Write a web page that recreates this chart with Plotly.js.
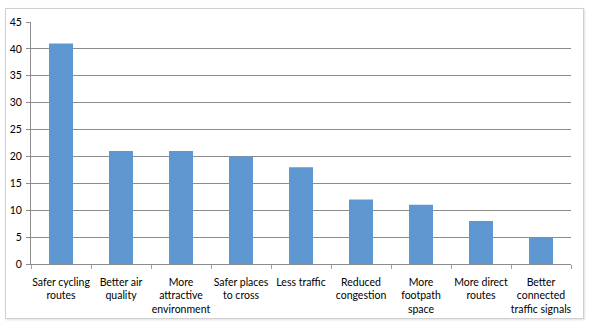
<!DOCTYPE html>
<html><head><meta charset="utf-8">
<script src="https://cdn.plot.ly/plotly-3.0.1.min.js"></script>
<style>html,body{margin:0;padding:0;background:#fff;}
#wrap{position:relative;width:591px;height:324px;}
#frame{position:absolute;left:5px;top:8px;width:577px;height:309px;border:1px solid #cfcfcf;box-shadow:1px 1px 2px #e0e0e0;pointer-events:none;}
#chart{position:absolute;left:0;top:0;width:591px;height:324px;}
</style></head>
<body><div id="wrap"><div id="chart"></div><div id="frame"></div></div>
<script>
const categories = ["Safer cycling<br>routes","Better air<br>quality","More<br>attractive<br>environment","Safer places<br>to cross","Less traffic","Reduced<br>congestion","More<br>footpath<br>space","More direct<br>routes","Better<br>connected<br>traffic signals"];
const values = [41, 21, 21, 20, 18, 12, 11, 8, 5];
const yTicks = [0,5,10,15,20,25,30,35,40,45];

Plotly.newPlot('chart', [{
  type: 'bar', x: categories, y: values,
  marker: {color: '#5f97d0'}, hoverinfo: 'none'
}], {
  width: 591, height: 324,
  margin: {l: 31, r: 20, t: 22, b: 60},
  paper_bgcolor: 'rgba(0,0,0,0)', plot_bgcolor: 'rgba(0,0,0,0)',
  bargap: 0.6, showlegend: false,
  font: {family: 'Lato, "Open Sans", sans-serif', size: 10, color: '#000'},
  xaxis: {tickson: 'boundaries', ticks: 'outside', ticklen: 4, tickcolor: '#a0a0a0',
          showline: true, linecolor: '#8c8c8c', showgrid: false, tickangle: 0, fixedrange: true,
          ticklabelstandoff: 8, tickfont: {size: 10.5}},
  yaxis: {range: [0, 45], tickvals: yTicks, ticks: 'outside', ticklen: 4, tickcolor: '#8c8c8c',
          showline: true, linecolor: '#8c8c8c', gridcolor: '#8c8c8c', gridwidth: 1,
          zeroline: false, fixedrange: true, ticklabelstandoff: 2, tickfont: {size: 10.5}}
}, {staticPlot: true});
</script></body></html>
